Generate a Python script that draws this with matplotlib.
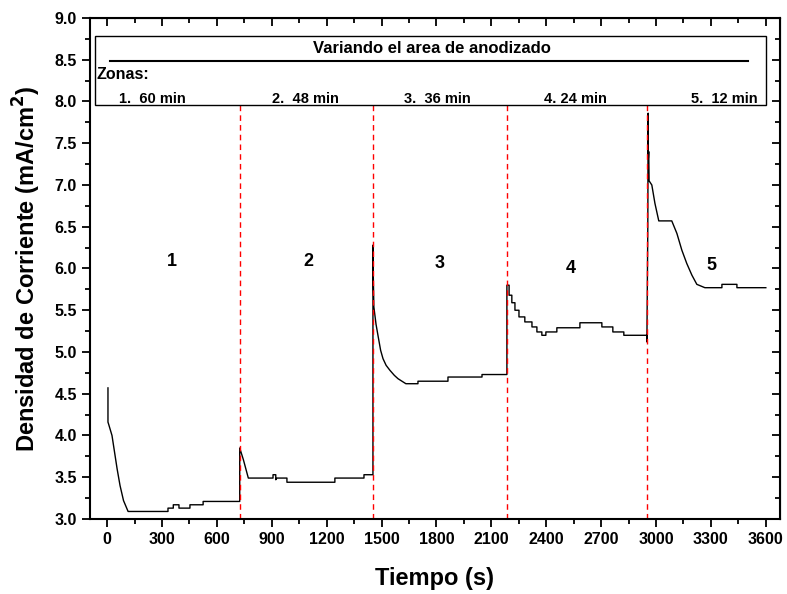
import matplotlib.pyplot as plt
from matplotlib.ticker import MultipleLocator
from matplotlib.patches import Rectangle

plt.rcParams['font.family'] = ['Liberation Sans', 'DejaVu Sans']

# Curva de densidad de corriente (tiempo en s, densidad en mA/cm2)
tiempo = [5, 5, 8, 27, 55, 71, 90, 115, 333, 333, 362, 362, 393, 393, 453, 453, 525, 525, 725,
          725, 745, 772, 907, 907, 922, 922, 928, 983, 983, 1245, 1245, 1404, 1404, 1453,
          1453, 1455, 1458, 1470, 1482, 1495, 1508, 1525, 1546, 1570, 1590, 1633, 1699, 1699, 1863, 1863,
          2049, 2049, 2185,
          2185, 2197, 2197, 2212, 2212, 2229, 2229, 2251, 2251, 2283, 2283, 2322, 2322, 2349, 2349,
          2376, 2376, 2398, 2398, 2458, 2458, 2584, 2584, 2704, 2704, 2764, 2764, 2824, 2824, 2950, 2950,
          2955, 2957, 2958, 2960, 2962, 2977, 2994, 3015, 3086, 3114, 3141, 3168, 3196, 3223, 3267,
          3360, 3360, 3442, 3442, 3600]
densidad = [4.57, 4.16, 4.14, 4.00, 3.60, 3.40, 3.22, 3.09, 3.09, 3.13, 3.13, 3.17, 3.17, 3.13, 3.13, 3.17, 3.17,
            3.21, 3.21,
            3.85, 3.71, 3.49, 3.49, 3.53, 3.53, 3.47, 3.49, 3.49, 3.44, 3.44, 3.49, 3.49, 3.53, 3.53,
            6.28, 5.90, 5.54, 5.33, 5.18, 5.02, 4.92, 4.84, 4.78, 4.72, 4.68, 4.62, 4.62, 4.65, 4.65, 4.70,
            4.70, 4.73, 4.73,
            5.80, 5.80, 5.68, 5.68, 5.59, 5.59, 5.50, 5.50, 5.42, 5.42, 5.36, 5.36, 5.30, 5.30, 5.24,
            5.24, 5.20, 5.20, 5.24, 5.24, 5.29, 5.29, 5.35, 5.35, 5.30, 5.30, 5.24, 5.24, 5.20, 5.20, 5.12,
            6.49, 7.86, 7.32, 7.40, 7.05, 7.00, 6.78, 6.57, 6.57, 6.42, 6.22, 6.06, 5.92, 5.81, 5.77,
            5.77, 5.81, 5.81, 5.77, 5.77]

cambios = [725, 1453, 2185, 2952]
zonas = ['1', '2', '3', '4', '5']
zonas_x = [355, 1098, 1820, 2535, 3305]
zonas_y = [6.08, 6.08, 6.06, 6.00, 6.04]
leyenda = ['1.  60 min', '2.  48 min', '3.  36 min', '4. 24 min', '5.  12 min']
leyenda_x = [0.09, 0.312, 0.503, 0.703, 0.919]

fig = plt.figure(figsize=(7.87, 5.94), dpi=100)
ax = fig.add_axes([0.1144, 0.1263, 0.8766, 0.8434])

ax.plot(tiempo, densidad, color='black', lw=1.0)
ax.vlines(cambios, 3.0, 7.97, colors='red', linestyles=(0, (4, 3)), lw=1.0)

for z, x, y in zip(zonas, zonas_x, zonas_y):
    ax.text(x, y, z, ha='center', va='center', fontsize=13, fontweight='bold')

# caja de leyenda
ax.add_patch(Rectangle((0.007, 0.826), 0.973, 0.138, transform=ax.transAxes,
                       facecolor='white', edgecolor='black', lw=1.0, zorder=5))
ax.plot([0.029, 0.954], [0.914, 0.914], transform=ax.transAxes, color='black', lw=1.5, zorder=6)
ax.text(0.496, 0.94, 'Variando el area de anodizado', transform=ax.transAxes,
        ha='center', va='center', fontsize=12, fontweight='bold', zorder=6)
ax.text(0.01, 0.888, 'Zonas:', transform=ax.transAxes,
        ha='left', va='center', fontsize=11.5, fontweight='bold', zorder=6)
for t, x in zip(leyenda, leyenda_x):
    ax.text(x, 0.839, t, transform=ax.transAxes, ha='center', va='center',
            fontsize=10.5, fontweight='bold', zorder=6)

ax.set_xlim(-93, 3677)
ax.set_ylim(3.0, 9.0)
ax.xaxis.set_major_locator(MultipleLocator(300))
ax.xaxis.set_minor_locator(MultipleLocator(150))
ax.yaxis.set_major_locator(MultipleLocator(0.5))
ax.yaxis.set_minor_locator(MultipleLocator(0.25))
ax.yaxis.set_major_formatter(plt.FormatStrFormatter('%.1f'))

ax.tick_params(which='both', direction='out', top=False, right=False, width=1.3, labelsize=11.5)
ax.tick_params(which='major', length=6)
ax.tick_params(which='minor', length=3.5)
for lab in ax.get_xticklabels() + ax.get_yticklabels():
    lab.set_fontweight('bold')

# marcas interiores arriba y a la derecha
ax2 = ax.secondary_xaxis('top')
ax2.xaxis.set_major_locator(MultipleLocator(300))
ax2.xaxis.set_minor_locator(MultipleLocator(150))
ax2.tick_params(which='both', direction='in', labeltop=False, width=1.3)
ax2.tick_params(which='major', length=6)
ax2.tick_params(which='minor', length=3.5)
ax3 = ax.secondary_yaxis('right')
ax3.yaxis.set_major_locator(MultipleLocator(0.5))
ax3.yaxis.set_minor_locator(MultipleLocator(0.25))
ax3.tick_params(which='both', direction='in', labelright=False, width=1.3)
ax3.tick_params(which='major', length=6)
ax3.tick_params(which='minor', length=3.5)

for s in ax.spines.values():
    s.set_linewidth(1.5)

ax.set_xlabel('Tiempo (s)', fontsize=17, fontweight='bold', labelpad=14)
ax.set_ylabel('Densidad de Corriente (mA/cm$^\\mathbf{2}$)', fontsize=17, fontweight='bold', labelpad=8)

plt.savefig('out.png', dpi=100)
